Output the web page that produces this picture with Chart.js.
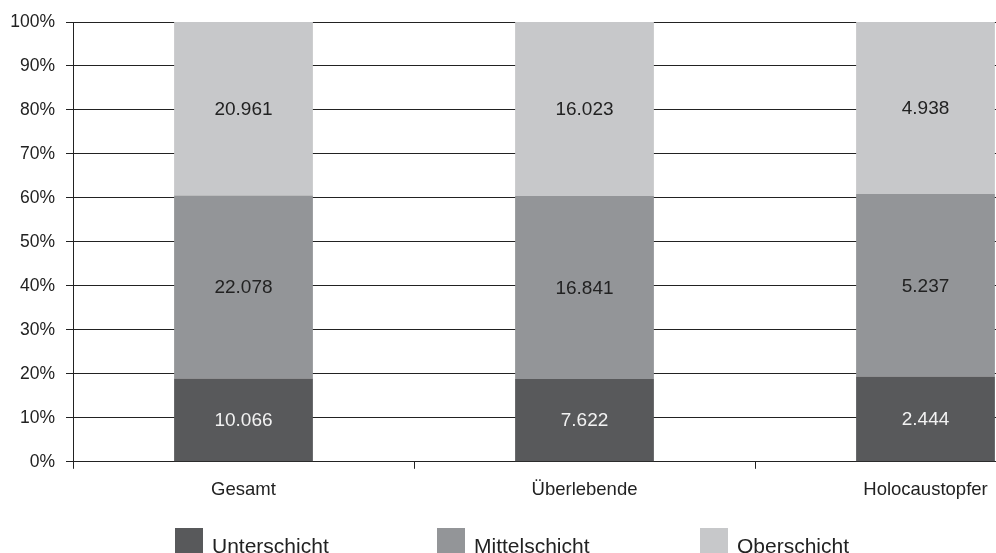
<!DOCTYPE html>
<html>
<head>
<meta charset="utf-8">
<script src="https://cdn.jsdelivr.net/npm/chart.js@4/dist/chart.umd.min.js"></script>
<style>
  html, body { margin: 0; padding: 0; background: #fff; overflow: hidden; }
  #wrap { width: 1096px; height: 553px; }
</style>
</head>
<body>
<div id="wrap"><canvas id="schichtChart"></canvas></div>
<script>
// Anzahl Personen je Schicht
const categories = ['Gesamt', 'Überlebende', 'Holocaustopfer'];
const seriesNames = ['Unterschicht', 'Mittelschicht', 'Oberschicht'];
const unterschicht = [10066, 7622, 2444];
const mittelschicht = [22078, 16841, 5237];
const oberschicht = [20961, 16023, 4938];
const yTicks = [0, 10, 20, 30, 40, 50, 60, 70, 80, 90, 100];

const colors = ['#58595b', '#939598', '#c7c8ca'];
const labelColors = ['#f2f2f2', '#222222', '#222222'];
const FONT = '"Liberation Sans", Arial, sans-serif';

const raw = [unterschicht, mittelschicht, oberschicht];
const totals = categories.map((c, i) => raw.reduce((s, arr) => s + arr[i], 0));

// 1.234 -> "1.234"
function fmt(n) {
    return String(n).replace(/\B(?=(\d{3})+(?!\d))/g, '.');
}

const ctx = document.getElementById('schichtChart');

// Werte mittig in die Segmente schreiben
const valueLabels = {
    id: 'valueLabels',
    afterDatasetsDraw(chart) {
        const c = chart.ctx;
        c.save();
        c.font = '19px ' + FONT;
        c.textAlign = 'center';
        c.textBaseline = 'middle';
        chart.data.datasets.forEach((ds, di) => {
            chart.getDatasetMeta(di).data.forEach((bar, i) => {
                c.fillStyle = labelColors[di];
                c.fillText(fmt(raw[di][i]), bar.x, (bar.y + bar.base) / 2 + 1);
            });
        });
        c.restore();
    }
};

// Legende unten, feste Positionen
const legendX = [175, 437, 700];
const bottomLegend = {
    id: 'bottomLegend',
    afterDraw(chart) {
        const c = chart.ctx;
        c.save();
        c.font = '21px ' + FONT;
        c.textBaseline = 'alphabetic';
        c.textAlign = 'left';
        seriesNames.forEach((name, i) => {
            const left = legendX[i];
            c.fillStyle = colors[i];
            c.fillRect(left, 528, 28, 30);
            c.fillStyle = '#222';
            c.fillText(name, left + 37, 553);
        });
        c.restore();
    }
};

new Chart(ctx, {
    type: 'bar',
    data: {
        labels: categories,
        datasets: seriesNames.map((name, di) => ({
            label: name,
            data: raw[di].map((v, i) => v / totals[i] * 100),
            backgroundColor: colors[di],
            borderWidth: 0,
            categoryPercentage: 1,
            barPercentage: 0.407
        }))
    },
    options: {
        responsive: true,
        maintainAspectRatio: false,
        animation: false,
        layout: { padding: { top: 22, left: 10, right: 0, bottom: 42 } },
        plugins: {
            legend: { display: false },
            tooltip: { enabled: false }
        },
        scales: {
            x: {
                stacked: true,
                grid: {
                    offset: true,
                    drawOnChartArea: false,
                    tickLength: 7,
                    color: '#222'
                },
                border: { color: '#222', width: 1 },
                ticks: {
                    padding: 10,
                    color: '#222',
                    font: { family: FONT, size: 18.5 }
                }
            },
            y: {
                stacked: true,
                min: 0,
                max: 100,
                afterBuildTicks(scale) {
                    scale.ticks = yTicks.map(v => ({ value: v }));
                },
                afterFit(scale) { scale.width = 63; },
                grid: {
                    tickLength: 7,
                    color: '#222',
                    lineWidth: 1
                },
                border: { color: '#222', width: 1 },
                ticks: {
                    padding: 11,
                    color: '#222',
                    font: { family: FONT, size: 17.5 },
                    callback: v => v + '%'
                }
            }
        }
    },
    plugins: [valueLabels, bottomLegend]
});
</script>
</body>
</html>
